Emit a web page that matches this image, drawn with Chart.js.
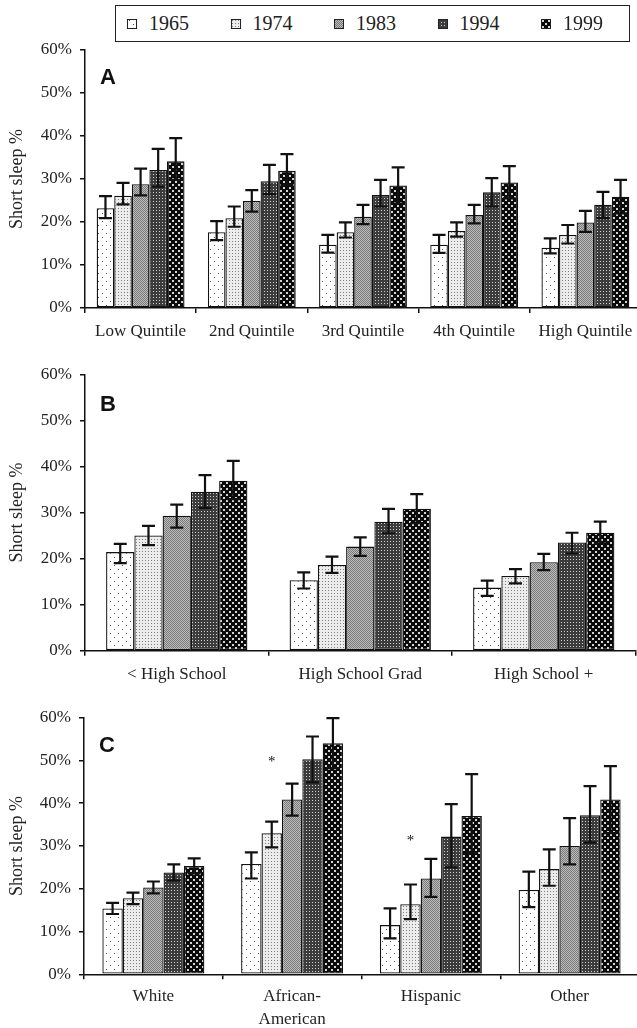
<!DOCTYPE html>
<html>
<head>
<meta charset="utf-8">
<script src="https://cdn.jsdelivr.net/npm/chart.js@4.4.1/dist/chart.umd.min.js"></script>
<style>
html, body { margin: 0; padding: 0; background: #fff; overflow: hidden; width: 637px; height: 1028px; }
.pannello { position: absolute; left: 0; width: 650px; }
#pannelloA { top: 0; height: 340px; }
#pannelloB { top: 340px; height: 360px; }
#pannelloC { top: 680px; height: 348px; }
#legenda {
    position: absolute; left: 115px; top: 5px; width: 502px; height: 35px;
    border: 1.5px solid #222; display: flex; align-items: center;
    font-family: 'Liberation Serif', 'Times New Roman', serif; font-size: 20px; color: #222;
    padding-left: 11px; box-sizing: content-box;
}
.voce { display: flex; align-items: center; width: 103.5px; flex: none; }
.voce canvas { width: 10px; height: 10px; margin-right: 12px; }
</style>
</head>
<body>
<div id="legenda"></div>
<div class="pannello" id="pannelloA"><canvas id="graficoA"></canvas></div>
<div class="pannello" id="pannelloB"><canvas id="graficoB"></canvas></div>
<div class="pannello" id="pannelloC"><canvas id="graficoC"></canvas></div>
<script>
var anni = ['1965', '1974', '1983', '1994', '1999'];

// A - income quintiles (one row per year)
var categorieA = ['Low Quintile', '2nd Quintile', '3rd Quintile', '4th Quintile', 'High Quintile'];
var valoriA = [
    [23.2, 17.6, 14.7, 14.7, 14.0],
    [26.1, 20.9, 17.6, 17.9, 17.0],
    [28.8, 24.9, 21.2, 21.6, 19.9],
    [32.1, 29.5, 26.3, 26.9, 24.0],
    [34.1, 31.9, 28.5, 29.2, 25.9]
];
var minimiA = [
    [20.9, 15.8, 12.9, 12.8, 12.7],
    [24.1, 18.9, 16.4, 16.6, 15.0],
    [26.2, 22.4, 19.5, 19.7, 17.7],
    [28.2, 26.5, 23.6, 23.6, 20.9],
    [29.8, 28.6, 24.3, 25.5, 22.0]
];
var massimiA = [
    [26.0, 20.2, 17.0, 17.0, 16.2],
    [29.1, 23.6, 19.9, 19.9, 19.3],
    [32.4, 27.4, 24.0, 24.0, 22.6],
    [37.0, 33.3, 29.8, 30.2, 27.0],
    [39.5, 35.8, 32.7, 33.0, 29.8]
];

// B - education
var categorieB = ['< High School', 'High School Grad', 'High School +'];
var valoriB = [
    [21.4, 15.3, 13.7],
    [25.0, 18.6, 16.2],
    [29.3, 22.6, 19.2],
    [34.5, 28.0, 23.5],
    [36.9, 30.8, 25.6]
];
var minimiB = [
    [19.0, 13.5, 11.9],
    [22.9, 16.9, 14.6],
    [26.7, 20.6, 17.5],
    [31.0, 25.5, 21.1],
    [32.9, 27.7, 23.3]
];
var massimiB = [
    [23.2, 17.0, 15.2],
    [27.1, 20.4, 17.7],
    [31.7, 24.6, 21.0],
    [38.1, 30.8, 25.6],
    [41.2, 34.0, 28.0]
];

// C - race / ethnicity
var categorieC = ['White', ['African-', 'American'], 'Hispanic', 'Other'];
var valoriC = [
    [15.4, 25.8, 11.5, 19.7],
    [17.8, 33.0, 16.4, 24.6],
    [20.3, 40.9, 22.4, 30.0],
    [23.8, 50.3, 32.2, 37.2],
    [25.3, 54.0, 37.0, 40.9]
];
var minimiC = [
    [14.1, 22.4, 8.4, 15.7],
    [16.4, 29.7, 12.9, 20.7],
    [18.9, 37.1, 18.1, 25.7],
    [21.9, 44.9, 25.0, 30.8],
    [23.6, 48.2, 28.4, 33.0]
];
var massimiC = [
    [16.7, 28.5, 15.4, 24.0],
    [19.1, 35.7, 21.0, 29.2],
    [21.7, 44.6, 27.0, 36.5],
    [25.7, 55.6, 39.8, 44.0],
    [27.1, 59.9, 46.8, 48.7]
];
var stelleCategorie = [1, 2];
var stelleAnno = 1;
var stelleLivelli = [50.3, 31.8];

var assePercentMin = 0;
var assePercentMax = 60;
var assePercentPasso = 10;

var fontSerif = "'Liberation Serif', 'Times New Roman', serif";

function creaMotivo(tipo) {
    var c = document.createElement('canvas');
    var g = c.getContext('2d');
    if (tipo === 0) {
        c.width = 8; c.height = 8;
        g.fillStyle = '#fff'; g.fillRect(0, 0, 8, 8);
        g.fillStyle = '#555'; g.fillRect(2, 1, 1, 1); g.fillRect(6, 5, 1, 1);
    } else if (tipo === 1) {
        c.width = 3; c.height = 3;
        g.fillStyle = '#ececec'; g.fillRect(0, 0, 3, 3);
        g.fillStyle = '#808080'; g.fillRect(1, 1, 1, 1);
    } else if (tipo === 2) {
        c.width = 2; c.height = 2;
        g.fillStyle = '#bcbcbc'; g.fillRect(0, 0, 2, 2);
        g.fillStyle = '#7a7a7a'; g.fillRect(0, 0, 1, 1); g.fillRect(1, 1, 1, 1);
    } else if (tipo === 3) {
        c.width = 3; c.height = 3;
        g.fillStyle = '#3c3c3c'; g.fillRect(0, 0, 3, 3);
        g.fillStyle = '#d0d0d0'; g.fillRect(0, 0, 1, 1);
    } else {
        c.width = 6; c.height = 6;
        g.fillStyle = '#0a0a0a'; g.fillRect(0, 0, 6, 6);
        g.fillStyle = '#d4d4d4'; g.fillRect(1, 1, 2, 2); g.fillRect(4, 4, 2, 2);
    }
    return g.createPattern(c, 'repeat');
}

var motivi = [];
for (var m = 0; m < anni.length; m++) {
    motivi.push(creaMotivo(m));
}

// legenda html
var legenda = document.getElementById('legenda');
for (var k = 0; k < anni.length; k++) {
    var voce = document.createElement('div');
    voce.className = 'voce';
    var quadro = document.createElement('canvas');
    quadro.width = 10; quadro.height = 10;
    var qc = quadro.getContext('2d');
    qc.fillStyle = motivi[k];
    qc.fillRect(0, 0, 10, 10);
    qc.strokeStyle = '#222';
    qc.lineWidth = 1;
    qc.strokeRect(0.5, 0.5, 9, 9);
    var testo = document.createElement('span');
    testo.textContent = anni[k];
    voce.appendChild(quadro);
    voce.appendChild(testo);
    legenda.appendChild(voce);
}

Chart.defaults.font.family = fontSerif;
Chart.defaults.font.size = 17;
Chart.defaults.color = '#222';

function creaGrafico(idCanvas, categorie, valori, minimi, massimi, impost) {
    var datasets = [];
    for (var i = 0; i < anni.length; i++) {
        datasets.push({
            label: anni[i],
            data: valori[i],
            errMin: minimi[i],
            errMax: massimi[i],
            backgroundColor: motivi[i],
            borderColor: '#111',
            borderWidth: 1.3,
            borderSkipped: false,
            categoryPercentage: impost.categoria,
            barPercentage: 1
        });
    }

    var barreErrore = {
        id: 'barreErrore',
        afterDatasetsDraw: function (chart) {
            var ctx = chart.ctx;
            var scalaY = chart.scales.y;
            var mezzo = 6.5;
            ctx.save();
            ctx.strokeStyle = '#111';
            ctx.lineWidth = 2.2;
            chart.data.datasets.forEach(function (ds, i) {
                var meta = chart.getDatasetMeta(i);
                meta.data.forEach(function (bar, j) {
                    var yAlto = scalaY.getPixelForValue(ds.errMax[j]);
                    var yBasso = scalaY.getPixelForValue(ds.errMin[j]);
                    ctx.beginPath();
                    ctx.moveTo(bar.x, yAlto);
                    ctx.lineTo(bar.x, yBasso);
                    ctx.moveTo(bar.x - mezzo, yAlto);
                    ctx.lineTo(bar.x + mezzo, yAlto);
                    ctx.moveTo(bar.x - mezzo, yBasso);
                    ctx.lineTo(bar.x + mezzo, yBasso);
                    ctx.stroke();
                });
            });

            // lettera del pannello
            ctx.fillStyle = '#111';
            ctx.font = "bold 22px 'Liberation Sans', Arial, sans-serif";
            ctx.textAlign = 'left';
            ctx.textBaseline = 'alphabetic';
            ctx.fillText(impost.lettera, chart.chartArea.left + 15, scalaY.getPixelForValue(52));

            // asterischi
            if (impost.stelle) {
                var metaStelle = chart.getDatasetMeta(stelleAnno);
                ctx.font = '15px ' + fontSerif;
                ctx.textAlign = 'center';
                ctx.textBaseline = 'middle';
                for (var s = 0; s < stelleCategorie.length; s++) {
                    var barra = metaStelle.data[stelleCategorie[s]];
                    ctx.fillText('*', barra.x, scalaY.getPixelForValue(stelleLivelli[s]) + 3);
                }
            }
            ctx.restore();
        }
    };

    return new Chart(document.getElementById(idCanvas), {
        type: 'bar',
        data: {
            labels: categorie,
            datasets: datasets
        },
        options: {
            responsive: true,
            maintainAspectRatio: false,
            animation: false,
            layout: {
                padding: { top: impost.sopra, right: impost.destra, bottom: 0, left: 0 }
            },
            plugins: {
                legend: { display: false },
                tooltip: { enabled: false }
            },
            scales: {
                x: {
                    grid: { display: true, drawOnChartArea: false, tickLength: 5, color: '#111', lineWidth: 1.5, offset: true },
                    border: { color: '#111', width: 1.5 },
                    ticks: { color: '#222', padding: impost.paddingX, maxRotation: 0, autoSkip: false,
                        font: { size: 17, lineHeight: 1.35 } },
                    afterFit: function (scala) { scala.height = impost.altezzaX; }
                },
                y: {
                    min: assePercentMin,
                    max: assePercentMax,
                    grid: { drawOnChartArea: false, tickLength: 5, color: '#111', lineWidth: 1.5 },
                    border: { color: '#111', width: 1.5 },
                    ticks: {
                        stepSize: assePercentPasso,
                        padding: 8,
                        color: '#222',
                        callback: function (v) { return v + '%'; }
                    },
                    title: { display: true, text: 'Short sleep %', color: '#222', font: { size: 18 }, padding: { top: 6, bottom: 0 } },
                    afterFit: function (scala) { scala.width = impost.sinistra; }
                }
            }
        },
        plugins: [barreErrore]
    });
}

creaGrafico('graficoA', categorieA, valoriA, minimiA, massimiA,
    { lettera: 'A', categoria: 0.79, sopra: 50, destra: 9, sinistra: 85, altezzaX: 32, paddingX: 7 });
creaGrafico('graficoB', categorieB, valoriB, minimiB, massimiB,
    { lettera: 'B', categoria: 0.77, sopra: 34.3, destra: 14.5, sinistra: 85, altezzaX: 49.3, paddingX: 7 });
creaGrafico('graficoC', categorieC, valoriC, minimiC, massimiC,
    { lettera: 'C', categoria: 0.735, sopra: 37.7, destra: 11, sinistra: 84, altezzaX: 53.7, paddingX: 6, stelle: true });
</script>
</body>
</html>
